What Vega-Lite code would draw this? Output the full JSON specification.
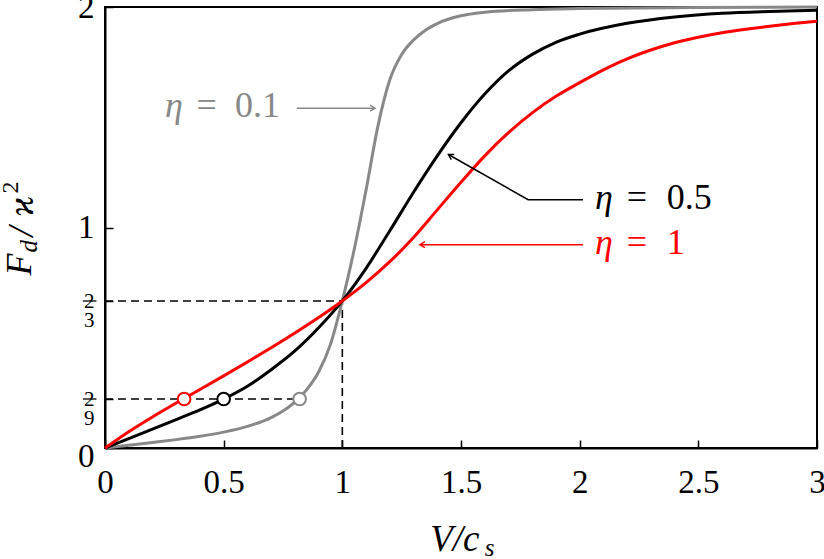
{
  "$schema": "https://vega.github.io/schema/vega-lite/v6.json",
  "width": 712,
  "height": 441,
  "autosize": {"type": "none"},
  "padding": {"left": 105, "top": 7, "right": 7, "bottom": 111},
  "background": "white",
  "config": {
    "view": {"stroke": "black", "strokeWidth": 2},
    "font": "'Liberation Serif', 'Times New Roman', 'DejaVu Serif', serif",
    "text": {"font": "'Liberation Serif', 'Times New Roman', 'DejaVu Serif', serif"}
  },
  "datasets": {
    "curves": [
      {"eta": "0.1", "V": 0, "F": 0}, {"eta": "0.1", "V": 0.1, "F": 0.012}, {"eta": "0.1", "V": 0.2, "F": 0.025}, {"eta": "0.1", "V": 0.3, "F": 0.038}, {"eta": "0.1", "V": 0.4, "F": 0.053}, {"eta": "0.1", "V": 0.5, "F": 0.072}, {"eta": "0.1", "V": 0.6, "F": 0.098}, {"eta": "0.1", "V": 0.7, "F": 0.138}, {"eta": "0.1", "V": 0.75, "F": 0.168}, {"eta": "0.1", "V": 0.8, "F": 0.208}, {"eta": "0.1", "V": 0.85, "F": 0.265}, {"eta": "0.1", "V": 0.9, "F": 0.345}, {"eta": "0.1", "V": 0.95, "F": 0.47}, {"eta": "0.1", "V": 1.0, "F": 0.667}, {"eta": "0.1", "V": 1.05, "F": 0.9}, {"eta": "0.1", "V": 1.1, "F": 1.17}, {"eta": "0.1", "V": 1.15, "F": 1.46}, {"eta": "0.1", "V": 1.2, "F": 1.67}, {"eta": "0.1", "V": 1.25, "F": 1.785}, {"eta": "0.1", "V": 1.3, "F": 1.85}, {"eta": "0.1", "V": 1.35, "F": 1.895}, {"eta": "0.1", "V": 1.4, "F": 1.925}, {"eta": "0.1", "V": 1.5, "F": 1.96}, {"eta": "0.1", "V": 1.6, "F": 1.976}, {"eta": "0.1", "V": 1.8, "F": 1.988}, {"eta": "0.1", "V": 2.0, "F": 1.993}, {"eta": "0.1", "V": 2.5, "F": 1.998}, {"eta": "0.1", "V": 3.0, "F": 2.0},
      {"eta": "0.5", "V": 0, "F": 0}, {"eta": "0.5", "V": 0.1, "F": 0.043}, {"eta": "0.5", "V": 0.2, "F": 0.086}, {"eta": "0.5", "V": 0.3, "F": 0.129}, {"eta": "0.5", "V": 0.4, "F": 0.173}, {"eta": "0.5", "V": 0.5, "F": 0.222}, {"eta": "0.5", "V": 0.6, "F": 0.28}, {"eta": "0.5", "V": 0.7, "F": 0.355}, {"eta": "0.5", "V": 0.8, "F": 0.44}, {"eta": "0.5", "V": 0.9, "F": 0.545}, {"eta": "0.5", "V": 1.0, "F": 0.667}, {"eta": "0.5", "V": 1.1, "F": 0.815}, {"eta": "0.5", "V": 1.2, "F": 0.985}, {"eta": "0.5", "V": 1.3, "F": 1.16}, {"eta": "0.5", "V": 1.4, "F": 1.325}, {"eta": "0.5", "V": 1.5, "F": 1.475}, {"eta": "0.5", "V": 1.6, "F": 1.605}, {"eta": "0.5", "V": 1.7, "F": 1.71}, {"eta": "0.5", "V": 1.8, "F": 1.785}, {"eta": "0.5", "V": 1.9, "F": 1.84}, {"eta": "0.5", "V": 2.0, "F": 1.877}, {"eta": "0.5", "V": 2.2, "F": 1.926}, {"eta": "0.5", "V": 2.4, "F": 1.955}, {"eta": "0.5", "V": 2.6, "F": 1.972}, {"eta": "0.5", "V": 2.8, "F": 1.98}, {"eta": "0.5", "V": 3.0, "F": 1.985},
      {"eta": "1", "V": 0, "F": 0}, {"eta": "1", "V": 0.1, "F": 0.074}, {"eta": "1", "V": 0.2, "F": 0.141}, {"eta": "1", "V": 0.3, "F": 0.204}, {"eta": "1", "V": 0.4, "F": 0.265}, {"eta": "1", "V": 0.5, "F": 0.327}, {"eta": "1", "V": 0.6, "F": 0.39}, {"eta": "1", "V": 0.7, "F": 0.455}, {"eta": "1", "V": 0.8, "F": 0.522}, {"eta": "1", "V": 0.9, "F": 0.592}, {"eta": "1", "V": 1.0, "F": 0.667}, {"eta": "1", "V": 1.1, "F": 0.75}, {"eta": "1", "V": 1.2, "F": 0.845}, {"eta": "1", "V": 1.3, "F": 0.955}, {"eta": "1", "V": 1.4, "F": 1.08}, {"eta": "1", "V": 1.5, "F": 1.205}, {"eta": "1", "V": 1.6, "F": 1.325}, {"eta": "1", "V": 1.7, "F": 1.43}, {"eta": "1", "V": 1.8, "F": 1.52}, {"eta": "1", "V": 1.9, "F": 1.595}, {"eta": "1", "V": 2.0, "F": 1.657}, {"eta": "1", "V": 2.1, "F": 1.715}, {"eta": "1", "V": 2.2, "F": 1.765}, {"eta": "1", "V": 2.3, "F": 1.805}, {"eta": "1", "V": 2.4, "F": 1.838}, {"eta": "1", "V": 2.5, "F": 1.863}, {"eta": "1", "V": 2.6, "F": 1.883}, {"eta": "1", "V": 2.7, "F": 1.899}, {"eta": "1", "V": 2.8, "F": 1.913}, {"eta": "1", "V": 2.9, "F": 1.925}, {"eta": "1", "V": 3.0, "F": 1.935}
    ],
    "dashes": [
      {"seg": "a", "V": 0, "F": 0.6666667}, {"seg": "a", "V": 1, "F": 0.6666667},
      {"seg": "b", "V": 1, "F": 0}, {"seg": "b", "V": 1.0001, "F": 0.6666667},
      {"seg": "c", "V": 0, "F": 0.2222222}, {"seg": "c", "V": 0.82, "F": 0.2222222}
    ],
    "fracbars": [
      {"frac": "2/3", "V": -0.093, "F": 0.6666667}, {"frac": "2/3", "V": -0.036, "F": 0.6666667},
      {"frac": "2/9", "V": -0.093, "F": 0.2222222}, {"frac": "2/9", "V": -0.036, "F": 0.2222222}
    ],
    "circles": [
      {"eta": "1", "V": 0.3333333, "F": 0.2222222},
      {"eta": "0.5", "V": 0.5, "F": 0.2222222},
      {"eta": "0.1", "V": 0.82, "F": 0.2222222}
    ],
    "arrowlines": [
      {"eta": "0.1", "V": 0.808, "F": 1.541}, {"eta": "0.1", "V": 1.138, "F": 1.541},
      {"eta": "0.5", "V": 1.447, "F": 1.331}, {"eta": "0.5", "V": 1.783, "F": 1.126}, {"eta": "0.5", "V": 2.014, "F": 1.126},
      {"eta": "1", "V": 1.327, "F": 0.922}, {"eta": "1", "V": 2.014, "F": 0.922}
    ],
    "heads": [
      {"eta": "0.1", "V": 1.138, "F": 1.541},
      {"eta": "0.5", "V": 1.447, "F": 1.331},
      {"eta": "1", "V": 1.327, "F": 0.922}
    ],
    "annEta": [
      {"eta": "0.1", "t": "η", "V": 0.253, "F": 1.5},
      {"eta": "0.5", "t": "η", "V": 2.065, "F": 1.085},
      {"eta": "1", "t": "η", "V": 2.065, "F": 0.881}
    ],
    "annNum": [
      {"eta": "0.1", "t": "=", "V": 0.386, "F": 1.5}, {"eta": "0.1", "t": "0.1", "V": 0.548, "F": 1.5},
      {"eta": "0.5", "t": "=", "V": 2.198, "F": 1.085}, {"eta": "0.5", "t": "0.5", "V": 2.367, "F": 1.085},
      {"eta": "1", "t": "=", "V": 2.198, "F": 0.881}, {"eta": "1", "t": "1", "V": 2.367, "F": 0.881}
    ],
    "ytitleBig": [
      {"t": "F", "V": -0.358, "F": 0.782},
      {"t": "/", "V": -0.35, "F": 0.959},
      {"t": "ϰ", "V": -0.35, "F": 1.05}
    ],
    "ytitleSub": [{"t": "d", "V": -0.322, "F": 0.887}],
    "ytitleSup": [{"t": "2", "V": -0.396, "F": 1.154}],
    "xtitleBig": [{"t": "V/c", "V": 1.37, "F": -0.465}],
    "xtitleSub": [{"t": "s", "V": 1.6, "F": -0.49}]
  },
  "encoding": {
    "x": {
      "field": "V", "type": "quantitative",
      "scale": {"domain": [0, 3], "nice": false, "zero": false},
      "axis": {
        "title": null, "values": [0, 0.5, 1, 1.5, 2, 2.5, 3], "format": "~g", "grid": false,
        "domainColor": "black", "domainWidth": 2, "tickColor": "black", "tickWidth": 1.5, "tickSize": -8,
        "labelFontSize": 33, "labelColor": "black", "labelPadding": 26, "labelFlush": false, "labelOverlap": false
      }
    },
    "y": {
      "field": "F", "type": "quantitative",
      "scale": {"domain": [0, 2], "nice": false, "zero": false},
      "axis": {
        "title": null, "values": [0, 0.2222222, 0.6666667, 1, 2], "grid": false,
        "labelExpr": "datum.value == 0 ? '0' : datum.value == 1 ? '1' : datum.value == 2 ? '2' : datum.value < 0.5 ? ['2', '9'] : ['2', '3']",
        "domainColor": "black", "domainWidth": 2, "tickColor": "black", "tickWidth": 1.5, "tickSize": -8,
        "labelFontSize": {"condition": {"test": "datum.value > 0.1 && datum.value < 0.9", "value": 21}, "value": 33},
        "labelOffset": {"condition": {"test": "datum.value == 0", "value": 8}, "value": 0},
        "labelLineHeight": 19,
        "labelColor": "black", "labelPadding": 19, "labelFlush": false, "labelOverlap": false
      }
    }
  },
  "layer": [
    {
      "data": {"name": "dashes"},
      "mark": {"type": "line", "color": "black", "strokeWidth": 1.6, "strokeDash": [8, 5]},
      "encoding": {"detail": {"field": "seg", "type": "nominal"}}
    },
    {
      "data": {"name": "fracbars"},
      "mark": {"type": "line", "color": "black", "strokeWidth": 1.3},
      "encoding": {"detail": {"field": "frac", "type": "nominal"}}
    },
    {
      "data": {"name": "curves"},
      "mark": {"type": "line", "strokeWidth": 3, "interpolate": "monotone"},
      "encoding": {
        "color": {"field": "eta", "type": "nominal", "scale": {"domain": ["0.1", "0.5", "1"], "range": ["#888888", "#000000", "#ff0000"]}, "legend": null}
      }
    },
    {
      "data": {"name": "circles"},
      "mark": {"type": "point", "shape": "circle", "filled": false, "fill": "white", "fillOpacity": 1, "strokeWidth": 2, "size": 160, "opacity": 1},
      "encoding": {
        "stroke": {"field": "eta", "type": "nominal", "scale": {"domain": ["0.1", "0.5", "1"], "range": ["#888888", "#000000", "#ff0000"]}, "legend": null}
      }
    },
    {
      "data": {"name": "arrowlines"},
      "mark": {"type": "line", "strokeWidth": 1.5},
      "encoding": {
        "color": {"field": "eta", "type": "nominal", "scale": {"domain": ["0.1", "0.5", "1"], "range": ["#888888", "#000000", "#ff0000"]}, "legend": null}
      }
    },
    {
      "data": {"name": "heads"},
      "transform": [{"filter": "datum.eta == '0.1'"}],
      "mark": {"type": "point", "shape": "M-1,-0.6L0,0L-1,0.6", "filled": false, "strokeWidth": 1.5, "size": 100, "angle": 0, "opacity": 1, "color": "#888888"}
    },
    {
      "data": {"name": "heads"},
      "transform": [{"filter": "datum.eta == '0.5'"}],
      "mark": {"type": "point", "shape": "M-1,-0.6L0,0L-1,0.6", "filled": false, "strokeWidth": 1.5, "size": 100, "angle": 209.6, "opacity": 1, "color": "#000000"}
    },
    {
      "data": {"name": "heads"},
      "transform": [{"filter": "datum.eta == '1'"}],
      "mark": {"type": "point", "shape": "M-1,-0.6L0,0L-1,0.6", "filled": false, "strokeWidth": 1.5, "size": 100, "angle": 180, "opacity": 1, "color": "#ff0000"}
    },
    {
      "data": {"name": "annEta"},
      "mark": {"type": "text", "fontSize": 36, "fontStyle": "italic", "align": "left", "baseline": "alphabetic", "font": "'Liberation Serif', 'Times New Roman', 'DejaVu Serif', serif"},
      "encoding": {
        "text": {"field": "t"},
        "color": {"field": "eta", "type": "nominal", "scale": {"domain": ["0.1", "0.5", "1"], "range": ["#888888", "#000000", "#ff0000"]}, "legend": null}
      }
    },
    {
      "data": {"name": "annNum"},
      "mark": {"type": "text", "fontSize": 36, "align": "left", "baseline": "alphabetic", "font": "'Liberation Serif', 'Times New Roman', 'DejaVu Serif', serif"},
      "encoding": {
        "text": {"field": "t"},
        "color": {"field": "eta", "type": "nominal", "scale": {"domain": ["0.1", "0.5", "1"], "range": ["#888888", "#000000", "#ff0000"]}, "legend": null}
      }
    },
    {
      "data": {"name": "ytitleBig"},
      "mark": {"type": "text", "fontSize": 36, "fontStyle": "italic", "align": "left", "baseline": "middle", "angle": 270, "color": "black", "font": "'Liberation Serif', 'Times New Roman', 'DejaVu Serif', serif"},
      "encoding": {"text": {"field": "t"}}
    },
    {
      "data": {"name": "ytitleSub"},
      "mark": {"type": "text", "fontSize": 25, "fontStyle": "italic", "align": "left", "baseline": "middle", "angle": 270, "color": "black", "font": "'Liberation Serif', 'Times New Roman', 'DejaVu Serif', serif"},
      "encoding": {"text": {"field": "t"}}
    },
    {
      "data": {"name": "ytitleSup"},
      "mark": {"type": "text", "fontSize": 24, "align": "left", "baseline": "middle", "angle": 270, "color": "black", "font": "'Liberation Serif', 'Times New Roman', 'DejaVu Serif', serif"},
      "encoding": {"text": {"field": "t"}}
    },
    {
      "data": {"name": "xtitleBig"},
      "mark": {"type": "text", "fontSize": 37, "fontStyle": "italic", "align": "left", "baseline": "alphabetic", "color": "black", "font": "'Liberation Serif', 'Times New Roman', 'DejaVu Serif', serif"},
      "encoding": {"text": {"field": "t"}}
    },
    {
      "data": {"name": "xtitleSub"},
      "mark": {"type": "text", "fontSize": 25, "fontStyle": "italic", "align": "left", "baseline": "alphabetic", "color": "black", "font": "'Liberation Serif', 'Times New Roman', 'DejaVu Serif', serif"},
      "encoding": {"text": {"field": "t"}}
    }
  ]
}
